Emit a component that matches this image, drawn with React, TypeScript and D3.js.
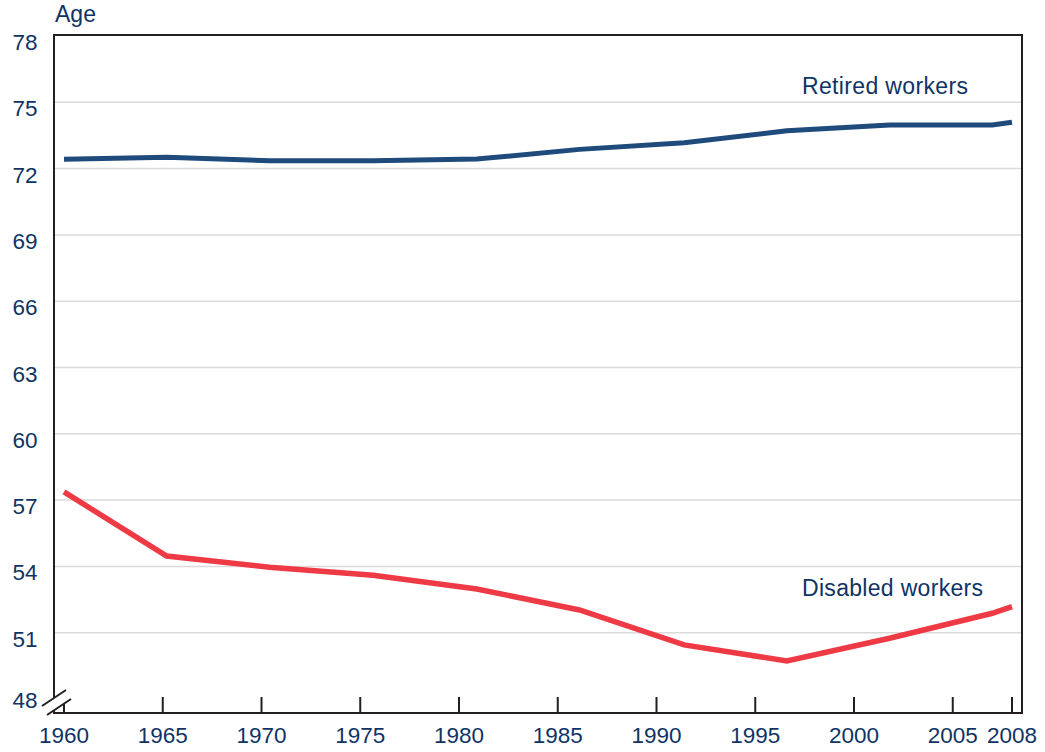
import React from "react";
import * as d3 from "d3";

const years = [1960, 1965.2, 1970.4, 1975.65, 1980.9, 1986.1, 1991.4, 1996.6, 2001.8, 2007.0, 2008];
const retired = [72.42, 72.51, 72.36, 72.36, 72.43, 72.87, 73.17, 73.71, 73.97, 73.97, 74.1];
const disabled = [57.37, 54.47, 53.96, 53.6, 52.98, 52.03, 50.45, 49.72, 50.75, 51.88, 52.18];
const xTicks = [1960, 1965, 1970, 1975, 1980, 1985, 1990, 1995, 2000, 2005, 2008];
const yTicks = [48, 51, 54, 57, 60, 63, 66, 69, 72, 75, 78];
const gridTicks = [51, 54, 57, 60, 63, 66, 69, 72, 75];

const W = 1045;
const H = 752;
const left = 54;
const right = 1022;
const top = 35;
const bottom = 713;
const TEXT = "#0e3466";
const AXIS = "#231f20";
const FONT = "'Liberation Sans', Arial, Helvetica, sans-serif";

export default function App() {
  const x = d3.scaleLinear().domain([1960, 2008]).range([64, 1012]);
  const y = d3.scaleLinear().domain([48, 78]).range([699, 36]);
  const line = d3
    .line<number>()
    .x((_, i) => x(years[i]))
    .y((d) => y(d));

  return (
    <svg
      width={W}
      height={H}
      style={{ position: "absolute", left: 0, top: 0, background: "#fff" }}
      fontFamily={FONT}
    >
      <rect x={0} y={0} width={W} height={H} fill="#fff" />
      {gridTicks.map((t) => (
        <line key={t} x1={left} x2={right} y1={y(t)} y2={y(t)} stroke="#dadada" strokeWidth={1.5} />
      ))}
      <path d={line(retired) || ""} fill="none" stroke="#1f4a7c" strokeWidth={5} />
      <path d={line(disabled) || ""} fill="none" stroke="#ee3a44" strokeWidth={5.5} />
      {/* frame */}
      <line x1={left} x2={right + 1} y1={top} y2={top} stroke={AXIS} strokeWidth={2} />
      <line x1={right} x2={right} y1={top} y2={bottom + 1} stroke={AXIS} strokeWidth={2} />
      <line x1={left} x2={left} y1={top - 1} y2={bottom} stroke={AXIS} strokeWidth={2} />
      <line x1={left - 1} x2={right + 1} y1={bottom} y2={bottom} stroke={AXIS} strokeWidth={2} />
      {xTicks.map((t) => (
        <line key={t} x1={x(t)} x2={x(t)} y1={bottom} y2={bottom - 16} stroke={AXIS} strokeWidth={2} />
      ))}
      {/* axis break */}
      <polygon points="42,706 66,690 71,699 47,715" fill="#fff" />
      <line x1={42} y1={706} x2={66} y2={690} stroke={AXIS} strokeWidth={2} />
      <line x1={47} y1={715} x2={71} y2={699} stroke={AXIS} strokeWidth={2} />
      {/* y labels */}
      {yTicks.map((t) => (
        <text
          key={t}
          x={37.5}
          y={y(t) + (t === 48 ? 9 : 14)}
          textAnchor="end"
          fontSize={22.5}
          fill={TEXT}
        >
          {t}
        </text>
      ))}
      {xTicks.map((t) => (
        <text key={t} x={x(t)} y={743} textAnchor="middle" fontSize={22.5} fill={TEXT}>
          {t}
        </text>
      ))}
      <text x={55} y={22} fontSize={23} fill={TEXT}>
        Age
      </text>
      <text x={802} y={93.5} fontSize={23} fill={TEXT} textLength={166}>
        Retired workers
      </text>
      <text x={802} y={596} fontSize={23} fill={TEXT} textLength={181}>
        Disabled workers
      </text>
    </svg>
  );
}
